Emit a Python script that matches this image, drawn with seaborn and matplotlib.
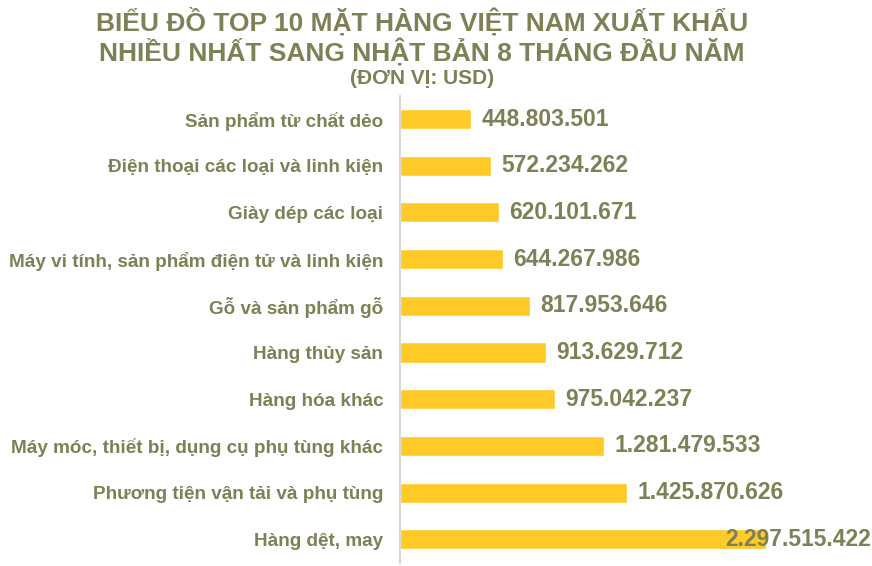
import pandas as pd
import matplotlib
matplotlib.use('Agg')
import matplotlib.pyplot as plt
import seaborn as sns

sns.set_theme(style="white")
plt.rcParams['font.family'] = ['Liberation Sans', 'DejaVu Sans']

# Data (top 10 export items, USD)
items = [
    'Sản phẩm từ chất dẻo',
    'Điện thoại các loại và linh kiện',
    'Giày dép các loại',
    'Máy vi tính, sản phẩm điện tử và linh kiện',
    'Gỗ và sản phẩm gỗ',
    'Hàng thủy sản',
    'Hàng hóa khác',
    'Máy móc, thiết bị, dụng cụ phụ tùng khác',
    'Phương tiện vận tải và phụ tùng',
    'Hàng dệt, may',
]
values = [448803501, 572234262, 620101671, 644267986, 817953646,
          913629712, 975042237, 1281479533, 1425870626, 2297515422]

df = pd.DataFrame({'item': items, 'value': values})

TEXT = '#7E8056'
BAR = '#FFCA28'

fig = plt.figure(figsize=(8.72, 5.66), dpi=100)
ax = fig.add_axes([0.4587, 0.0058, 0.5413, 0.8252])

sns.barplot(data=df, x='value', y='item', color=BAR, width=0.43,
            saturation=1, ax=ax)

xmax = max(values) * 472 / 366
ax.set_xlim(0, xmax)
ax.set_xlabel('')
ax.set_ylabel('')
ax.set_xticks([])
ax.tick_params(axis='y', length=0, pad=12)
for lab in ax.get_yticklabels():
    lab.set_fontsize(13.6)
    lab.set_fontweight('bold')
    lab.set_color(TEXT)

for s in ['top', 'right', 'bottom']:
    ax.spines[s].set_visible(False)
ax.spines['left'].set_color('#D9D9D9')
ax.spines['left'].set_linewidth(1.5)

# value labels, formatted with dots as thousands separators
for i, v in enumerate(values):
    txt = f'{v:,}'.replace(',', '.')
    if v * 472 / 366 > xmax * 0.99:
        ax.text(xmax * 0.997, i, txt, ha='right', va='center', fontsize=16.5,
                fontweight='bold', color=TEXT)
    else:
        ax.annotate(txt, (v, i), xytext=(7.5, 0), textcoords='offset points',
                    ha='left', va='center', fontsize=16.5, fontweight='bold',
                    color=TEXT)

fig.text(0.484, 0.962, 'BIỂU ĐỒ TOP 10 MẶT HÀNG VIỆT NAM XUẤT KHẨU',
         ha='center', va='center', fontsize=19, fontweight='bold', color=TEXT)
fig.text(0.484, 0.909, 'NHIỀU NHẤT SANG NHẬT BẢN 8 THÁNG ĐẦU NĂM',
         ha='center', va='center', fontsize=19, fontweight='bold', color=TEXT)
fig.text(0.484, 0.862, '(ĐƠN VỊ: USD)',
         ha='center', va='center', fontsize=15, fontweight='bold', color=TEXT)

fig.savefig('out.png', dpi=100)
